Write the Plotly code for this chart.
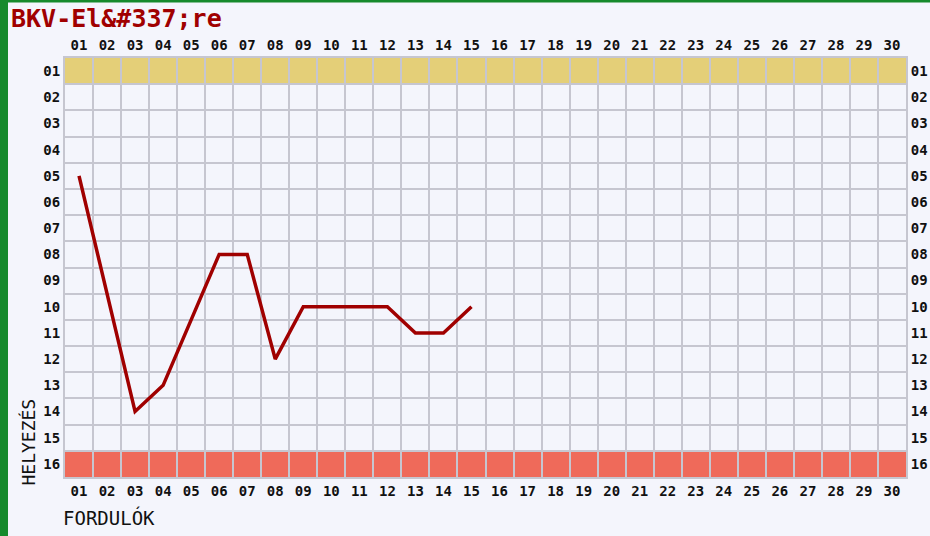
import plotly.graph_objects as go

rounds = list(range(1, 16))
positions = [5, 9.5, 14, 13, 10.5, 8, 8, 12, 10, 10, 10, 10, 11, 11, 10]
x_labels = [f"{i:02d}" for i in range(1, 31)]
y_labels = [f"{i:02d}" for i in range(1, 17)]
title_text = "BKV-El&amp;#337;re"

BG = "#f4f5fc"
GRID = "#c6c6d0"
FONT = "DejaVu Sans Mono"

fig = go.Figure()
fig.add_trace(go.Scatter(x=rounds, y=positions, mode="lines",
                         line=dict(color="#a00000", width=3.5),
                         hoverinfo="skip", showlegend=False))
fig.add_trace(go.Scatter(x=[1], y=[1], xaxis="x2", yaxis="y2", mode="markers",
                         marker=dict(opacity=0), hoverinfo="skip", showlegend=False))

xvals = list(range(1, 31))
yvals = list(range(1, 17))
tickfont = dict(family=FONT, size=14, color="#111111", weight="bold")

common_x = dict(range=[0.5, 30.5], tickvals=xvals, ticktext=x_labels, showgrid=False,
                zeroline=False, ticks="", tickfont=tickfont, fixedrange=True, automargin=False,
                showline=True, linecolor=GRID, linewidth=2, mirror=True,
                minor=dict(tick0=0.5, dtick=1, showgrid=True, gridcolor=GRID, gridwidth=2, ticks=""))
common_y = dict(range=[16.5, 0.5], tickvals=yvals, ticktext=y_labels, showgrid=False,
                zeroline=False, ticks="", tickfont=tickfont, fixedrange=True, automargin=False,
                showline=True, linecolor=GRID, linewidth=2, mirror=True,
                minor=dict(tick0=0.5, dtick=1, showgrid=True, gridcolor=GRID, gridwidth=2, ticks=""))

fig.update_layout(
    width=930, height=536,
    margin=dict(l=65, r=24, t=58, b=59, autoexpand=False),
    paper_bgcolor=BG, plot_bgcolor=BG,
    xaxis=dict(**common_x, side="bottom"),
    xaxis2=dict(**common_x, side="top", overlaying="x", matches="x"),
    yaxis=dict(**common_y, side="left"),
    yaxis2=dict(**common_y, side="right", overlaying="y", matches="y"),
    shapes=[
        dict(type="rect", xref="x", yref="y", x0=0.5, x1=30.5, y0=0.5, y1=1.5,
             fillcolor="#e4cf78", line=dict(width=0), layer="below"),
        dict(type="rect", xref="x", yref="y", x0=0.5, x1=30.5, y0=15.5, y1=16.5,
             fillcolor="#ef6a5a", line=dict(width=0), layer="below"),
        dict(type="rect", xref="paper", yref="paper", x0=-65/841, x1=-57/841, y0=-1, y1=2,
             fillcolor="#168a2c", line=dict(width=0), layer="above"),
        dict(type="line", xref="paper", yref="paper", x0=-65/841, x1=1.1, y0=1+57/419, y1=1+57/419,
             line=dict(color="#168a2c", width=3)),
    ],
    annotations=[
        dict(text=title_text, xref="paper", yref="paper", x=-56/841, y=1+40/419,
             xanchor="left", yanchor="middle", showarrow=False,
             font=dict(family=FONT, size=25, color="#a00000", weight="bold")),
        dict(text="HELYEZÉS", xref="paper", yref="paper", x=-37/841, y=-11/419,
             xanchor="center", yanchor="bottom", textangle=-90, showarrow=False,
             font=dict(family=FONT, size=18, color="#111111")),
        dict(text="FORDULÓK", xref="paper", yref="paper", x=-4/841, y=-40/419,
             xanchor="left", yanchor="middle", showarrow=False,
             font=dict(family=FONT, size=19, color="#111111")),
    ],
)

fig.write_html("out.html", config={"displayModeBar": False},
               post_script="document.body.style.margin='0';document.body.style.overflow='hidden';")
